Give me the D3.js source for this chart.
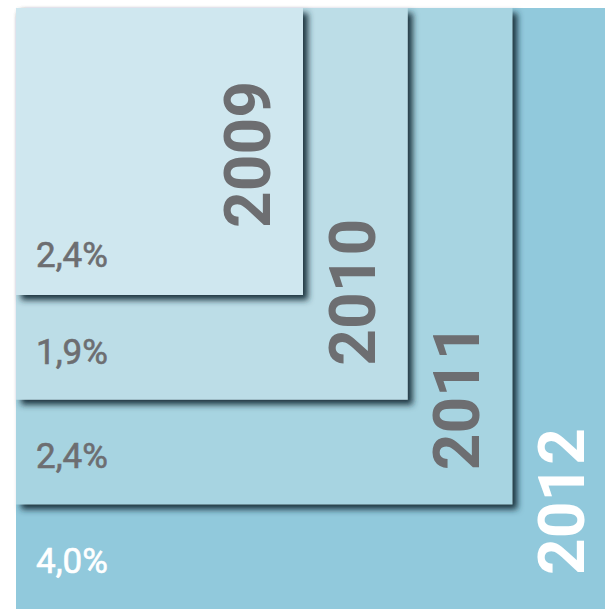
<!DOCTYPE html>
<html>
<head>
<meta charset="utf-8">
<script src="https://cdn.jsdelivr.net/npm/d3@7"></script>
<style>
  body { margin: 0; background: #fff; }
  text { font-family: Roboto, "Open Sans", sans-serif; }
</style>
</head>
<body>
<div id="chart"></div>
<script>
// Data
let years = ["2009", "2010", "2011", "2012"];
let growth = [2.4, 1.9, 2.4, 4.0];
let fills = ["#cfe7ef", "#bcdde7", "#a7d4e1", "#91c9dc"];
let inks = ["#6d6e71", "#6d6e71", "#6d6e71", "#ffffff"];

let width = 605, height = 609;
let origin = {x: 16, y: 8};

let data = years.map((y, i) => ({year: y, value: growth[i], i: i}));

let svg = d3.select("#chart").append("svg")
    .attr("width", width)
    .attr("height", height);

let defs = svg.append("defs");
defs.append("filter")
    .attr("id", "shadow")
    .attr("x", "-10%").attr("y", "-10%")
    .attr("width", "130%").attr("height", "130%")
  .append("feDropShadow")
    .attr("dx", 5)
    .attr("dy", 5)
    .attr("stdDeviation", 3.2)
    .attr("flood-color", "#1c3540")
    .attr("flood-opacity", 1);

// side length of each square, one step per year
let side = d3.scalePoint()
    .domain(years)
    .range([287, 601]);

let color = d3.scaleOrdinal().domain(years).range(fills);
let ink = d3.scaleOrdinal().domain(years).range(inks);

let fmt = d3.formatLocale({decimal: ",", thousands: ".", grouping: [3], currency: ["", "€"]}).format(".1f");

let g = svg.append("g")
    .selectAll("g")
    .data(data.slice().reverse())
    .join("g");

g.append("rect")
    .attr("x", origin.x)
    .attr("y", origin.y)
    .attr("width", d => side(d.year))
    .attr("height", d => side(d.year))
    .attr("fill", d => color(d.year))
    .attr("filter", d => d.i < years.length - 1 ? "url(#shadow)" : null);

// percentage labels, bottom left of each square
g.append("text")
    .attr("x", origin.x + 20)
    .attr("y", d => origin.y + side(d.year) - (d.i === 0 ? 28 : 36))
    .attr("font-size", 35)
    .attr("fill", d => ink(d.year))
    .attr("stroke", d => ink(d.year))
    .attr("stroke-width", 0.6)
    .text(d => fmt(d.value) + "%");

// year labels, rotated along the right edge
g.append("text")
    .attr("transform", d => {
        let s = side(d.year);
        let x = origin.x + s - 33;
        let y = d.i === 0 ? origin.y + s / 2 + 3 : origin.y + s - 34;
        return `translate(${x},${y}) rotate(-90)`;
    })
    .attr("text-anchor", d => d.i === 0 ? "middle" : "start")
    .attr("font-size", 64)
    .attr("font-weight", "bold")
    .attr("fill", d => ink(d.year))
    .text(d => d.year);
</script>
</body>
</html>
